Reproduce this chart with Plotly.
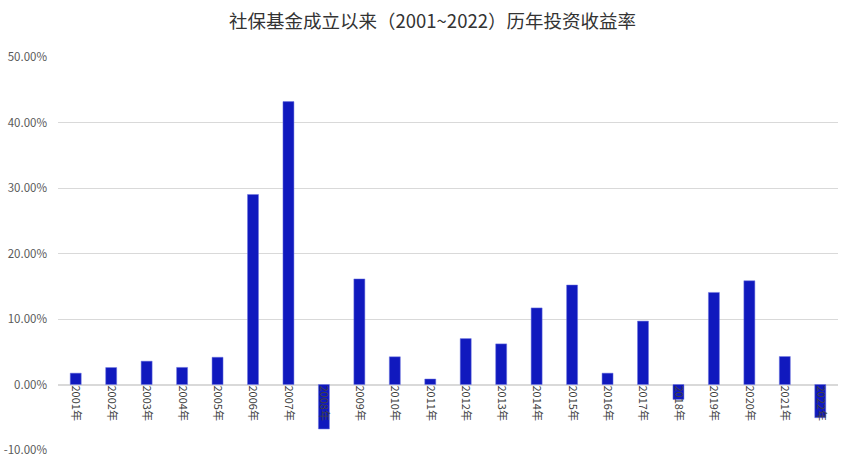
import plotly.graph_objects as go

# ─── Data ────────────────────────────────────────────────────────────────────
YEARS = [f"{y}年" for y in range(2001, 2023)]
RETURNS = [1.73, 2.59, 3.56, 2.61, 4.16, 29.01, 43.19, -6.79, 16.12, 4.23, 0.84,
           7.01, 6.20, 11.69, 15.19, 1.73, 9.68, -2.28, 14.06, 15.84, 4.27, -5.07]
Y_TICKS = [-10, 0, 10, 20, 30, 40, 50]
Y_LABELS = [f"{v:.2f}%" for v in Y_TICKS]

BAR_COLOR = "#1019BE"
GRID_COLOR = "#D9D9D9"
FONT = "Noto Sans CJK SC, Noto Sans, sans-serif"

fig = go.Figure(go.Bar(
    x=YEARS, y=RETURNS,
    marker=dict(color=BAR_COLOR, line=dict(color="#6F76E0", width=0.5)),
    width=0.31,
))

fig.update_layout(
    title=dict(text="社保基金成立以来（2001~2022）历年投资收益率",
               font=dict(size=18.5, color="#333333"), x=0.5, xanchor="center",
               y=0.953, yanchor="middle"),
    width=865, height=465,
    paper_bgcolor="white", plot_bgcolor="white",
    font=dict(family=FONT, color="#595959"),
    margin=dict(l=58, r=27, t=57, b=15),
    showlegend=False,
    xaxis=dict(
        anchor="free", position=1 / 6, automargin=False,
        tickangle=90, tickfont=dict(size=11, color="#404040"),
        showgrid=False, showline=False, ticks="",
    ),
    yaxis=dict(
        range=[-10, 50], tickvals=Y_TICKS, ticktext=Y_LABELS, automargin=False,
        tickfont=dict(size=11.5, color="#595959"), ticklabelstandoff=10,
        gridcolor=GRID_COLOR, gridwidth=1,
        zeroline=True, zerolinecolor=GRID_COLOR, zerolinewidth=1.5,
        showline=False,
    ),
)

# drop the browser's default body margin so the figure sits at (0, 0)
fig.write_html("out.html", config={"displayModeBar": False},
               post_script="document.body.style.margin='0';")
